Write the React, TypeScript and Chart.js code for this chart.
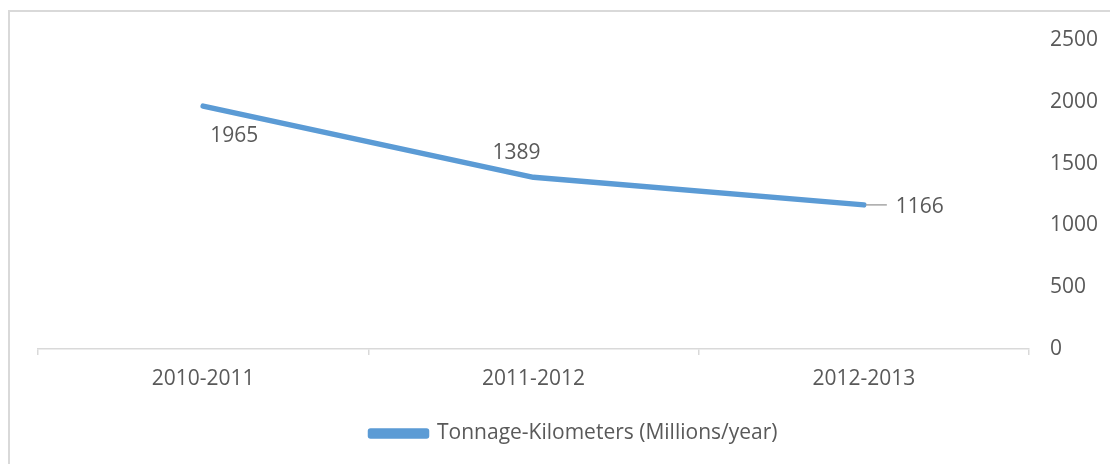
import React, { useEffect, useRef } from "react";
import { Chart, registerables } from "chart.js";

Chart.register(...registerables);

const categories = ["2010-2011", "2011-2012", "2012-2013"];
const seriesLabel = "Tonnage-Kilometers (Millions/year)";
const tonnageKm = [1965, 1389, 1166];
const yTicks = [0, 500, 1000, 1500, 2000, 2500];

const FONT = "'Open Sans', 'Liberation Sans', sans-serif";
const TEXT = "#595959";
const AXIS = "#d9d9d9";
const BLUE = "#5B9BD5";

// label placement relative to each point (style only)
const labelOffsets = [
  { dx: 31, dy: 30, leader: false },
  { dx: -17, dy: -24, leader: false },
  { dx: 56, dy: 2, leader: true },
];

const framePlugin = {
  id: "frame",
  beforeDraw(chart: any) {
    const ctx = chart.ctx;
    ctx.save();
    ctx.strokeStyle = AXIS;
    ctx.lineWidth = 2;
    ctx.strokeRect(9, 11, chart.width + 50, chart.height + 50);
    ctx.restore();
  },
};

const dataLabelPlugin = {
  id: "dataLabels",
  afterDatasetsDraw(chart: any) {
    const ctx = chart.ctx;
    const meta = chart.getDatasetMeta(0);
    const data = chart.data.datasets[0].data;
    ctx.save();
    ctx.font = `21px ${FONT}`;
    ctx.fillStyle = TEXT;
    ctx.textAlign = "center";
    ctx.textBaseline = "middle";
    meta.data.forEach((pt: any, i: number) => {
      const off = labelOffsets[i];
      if (off.leader) {
        ctx.beginPath();
        ctx.strokeStyle = "#a6a6a6";
        ctx.lineWidth = 1.5;
        ctx.moveTo(pt.x + 2, pt.y);
        ctx.lineTo(pt.x + 23, pt.y);
        ctx.stroke();
      }
      ctx.fillText(String(data[i]), pt.x + off.dx, pt.y + off.dy);
    });
    ctx.restore();
  },
};

export default function App() {
  const ref = useRef<HTMLCanvasElement>(null);
  useEffect(() => {
    if (!ref.current) return;
    Chart.defaults.color = TEXT;
    Chart.defaults.font.family = FONT;
    const chart = new Chart(ref.current, {
      type: "line",
      data: {
        labels: categories,
        datasets: [
          {
            label: seriesLabel,
            data: tonnageKm,
            borderColor: BLUE,
            backgroundColor: BLUE,
            borderWidth: 5.5,
            borderCapStyle: "round",
            borderJoinStyle: "round",
            pointRadius: 0,
            pointHoverRadius: 0,
            tension: 0,
          },
        ],
      },
      options: {
        animation: false,
        responsive: true,
        maintainAspectRatio: false,
        layout: { padding: { left: 38, top: 40, right: 0, bottom: 10 } },
        plugins: {
          tooltip: { enabled: false },
          legend: {
            position: "bottom",
            labels: {
              boxWidth: 56,
              boxHeight: 5,
              padding: 10,
              color: TEXT,
              font: { size: 21, family: FONT },
            },
          },
        },
        scales: {
          x: {
            offset: true,
            grid: {
              offset: true,
              drawOnChartArea: false,
              drawTicks: true,
              tickLength: 6,
              color: AXIS,
              lineWidth: 1.5,
            },
            border: { display: true, color: AXIS, width: 1.5 },
            ticks: {
              padding: 11,
              color: TEXT,
              font: { size: 21, family: FONT },
              maxRotation: 0,
            },
            afterFit(scale: any) {
              scale.height = 64;
            },
          },
          y: {
            position: "right",
            min: 0,
            max: 2500,
            afterBuildTicks(scale: any) {
              scale.ticks = yTicks.map((v) => ({ value: v }));
            },
            grid: { display: false, drawTicks: false },
            border: { display: false },
            ticks: {
              padding: 21,
              color: TEXT,
              font: { size: 21, family: FONT },
              callback: (v: any) => String(v),
            },
            afterFit(scale: any) {
              scale.width = 81;
            },
          },
        },
      },
      plugins: [framePlugin, dataLabelPlugin],
    } as any);
    return () => chart.destroy();
  }, []);
  return (
    <div style={{ position: "fixed", left: 0, top: 0, width: 1110, height: 464, background: "#fff" }}>
      <canvas ref={ref} />
    </div>
  );
}
